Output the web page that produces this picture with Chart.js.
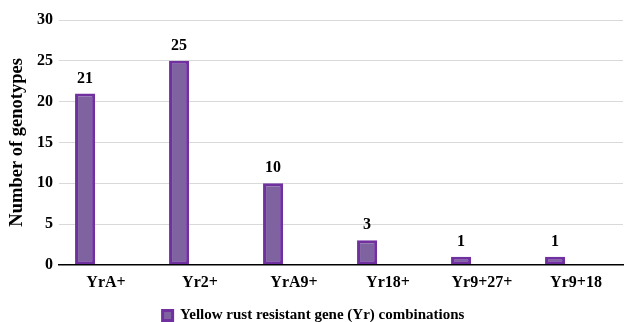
<!DOCTYPE html>
<html>
<head>
<meta charset="utf-8">
<script src="https://cdn.jsdelivr.net/npm/chart.js@4/dist/chart.umd.min.js"></script>
<style>
  html, body { margin: 0; padding: 0; background: #ffffff; }
  #wrap { width: 625px; height: 322px; }
</style>
</head>
<body>
<div id="wrap"><canvas id="chart"></canvas></div>
<script>
// Gene combinations and number of genotypes carrying each
const categories = ['YrA+', 'Yr2+', 'YrA9+', 'Yr18+', 'Yr9+27+', 'Yr9+18'];
const genotypeCounts = [21, 25, 10, 3, 1, 1];
const emptySeries = [null, null, null, null, null, null];
const yTicks = [0, 5, 10, 15, 20, 25, 30];
const seriesLabel = 'Yellow rust resistant gene (Yr) combinations';
const yTitle = 'Number of genotypes';

const serif = '"Liberation Serif", "Times New Roman", serif';

// Writes each bar's value just above it
const valueLabels = {
  id: 'valueLabels',
  afterDatasetsDraw(chart) {
    const ctx = chart.ctx;
    const meta = chart.getDatasetMeta(0);
    ctx.save();
    ctx.font = 'bold 16px ' + serif;
    ctx.fillStyle = '#000000';
    ctx.textAlign = 'center';
    ctx.textBaseline = 'bottom';
    meta.data.forEach((bar, i) => {
      ctx.fillText(String(genotypeCounts[i]), bar.x, bar.y - 7);
    });
    ctx.restore();
  }
};

new Chart(document.getElementById('chart'), {
  type: 'bar',
  data: {
    labels: categories,
    datasets: [
      {
        label: seriesLabel,
        data: genotypeCounts,
        backgroundColor: '#7f63a1',
        borderColor: '#7030a0',
        borderWidth: 3,
        borderSkipped: false,
        categoryPercentage: 0.89,
        barPercentage: 0.48
      },
      {
        label: '',
        data: emptySeries,
        categoryPercentage: 0.89,
        barPercentage: 0.48
      }
    ]
  },
  options: {
    responsive: true,
    maintainAspectRatio: false,
    animation: false,
    layout: { padding: { top: 20, right: 2, left: 4, bottom: -11 } },
    plugins: {
      legend: {
        position: 'bottom',
        title: { display: true, text: '', font: { size: 5 }, padding: 0 },
        labels: {
          filter: (item) => item.datasetIndex === 0,
          boxWidth: 10,
          boxHeight: 10,
          padding: 2,
          color: '#000000',
          font: { family: serif, weight: 'bold', size: 15, lineHeight: 1 }
        }
      },
      tooltip: { enabled: false }
    },
    scales: {
      x: {
        grid: { display: false, drawTicks: false },
        border: { display: true, color: '#000000', width: 1.5 },
        ticks: {
          color: '#000000',
          padding: 8,
          font: { family: serif, weight: 'bold', size: 16 }
        }
      },
      y: {
        min: 0,
        max: 30,
        afterBuildTicks: (scale) => { scale.ticks = yTicks.map(v => ({ value: v })); },
        afterFit: (scale) => { scale.width = 55; },
        grid: { color: '#d9d9d9', lineWidth: 1, drawTicks: false },
        border: { display: false },
        title: {
          display: true,
          text: yTitle,
          color: '#000000',
          padding: { top: 2, bottom: 0 },
          font: { family: serif, weight: 'bold', size: 18.5 }
        },
        ticks: {
          color: '#000000',
          padding: 6,
          font: { family: serif, weight: 'bold', size: 16 }
        }
      }
    }
  },
  plugins: [valueLabels]
});
</script>
</body>
</html>
